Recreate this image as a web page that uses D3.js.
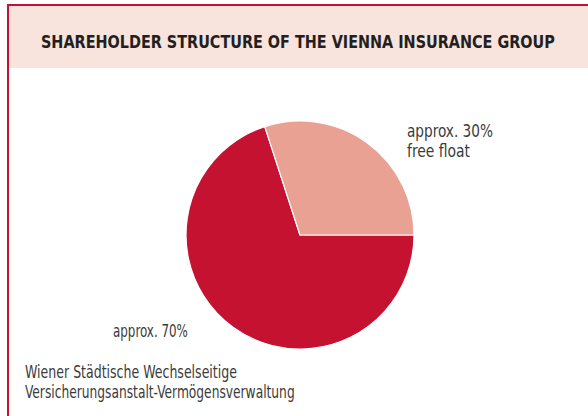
<!DOCTYPE html>
<html lang="en">
<head>
<meta charset="utf-8">
<title>shareholder structure</title>
<style>
html,body {padding:0; margin:0; background:#fff;}
svg {display:block;}
</style>
<script src="https://d3js.org/d3.v7.min.js"></script>
</head>
<body>
<script>
// shares in percent, order = drawing order clockwise from 3 o'clock
var shareholders = ['Wiener Städtische Wechselseitige Versicherungsanstalt-Vermögensverwaltung', 'free float']
var shares = [70, 30]
var shareLabels = [['approx. 70%'], ['approx. 30%', 'free float']]
var ownerLines = ['Wiener Städtische Wechselseitige', 'Versicherungsanstalt-Vermögensverwaltung']
var title = 'SHAREHOLDER STRUCTURE OF THE VIENNA INSURANCE GROUP'

var W = 588, H = 416
var red = '#c41230', salmon = '#e8a192'
var thin = '"Liberation Sans Narrow", "DejaVu Sans Condensed", sans-serif'

var svg = d3.select('body').append('svg').attr('width', W).attr('height', H)

// header band + frame
svg.append('rect').attr('x', 8).attr('y', 5).attr('width', W - 8).attr('height', 63).attr('fill', '#f8e3dd')
svg.append('line').attr('x1', 7).attr('x2', W).attr('y1', 5).attr('y2', 5).attr('stroke', red).attr('stroke-width', 2)
svg.append('line').attr('x1', 8).attr('x2', 8).attr('y1', 4).attr('y2', H).attr('stroke', red).attr('stroke-width', 2)

// squeeze a text horizontally to a target width (reference uses a condensed face)
function fitText(x, y, s, width, size, weight, fill) {
  var t = svg.append('text')
    .attr('font-family', thin).attr('font-weight', weight).attr('font-size', size)
    .attr('fill', fill).text(s)
  var len = t.node().getComputedTextLength()
  t.attr('transform', `translate(${x},${y}) scale(${width / len},1)`)
  return t
}

fitText(41, 48, title, 514, 17.5, 'bold', '#231f20')

// pie
var cx = 300, cy = 235, r = 114
var pie = d3.pie().sort(null).startAngle(Math.PI / 2).endAngle(Math.PI / 2 + 2 * Math.PI)
var arc = d3.arc().innerRadius(0).outerRadius(r)
var color = d3.scaleOrdinal().domain(shareholders).range([red, salmon])

svg.append('g').attr('transform', `translate(${cx},${cy})`)
  .selectAll('path').data(pie(shares)).join('path')
    .attr('d', arc)
    .attr('fill', function(d, i) { return color(shareholders[i]) })
    .attr('stroke', '#fff').attr('stroke-width', 1.2).attr('stroke-linejoin', 'round')

// labels
function lines(x, y, arr, lens) {
  arr.forEach(function(s, i) {
    fitText(x, y + i * 20, s, lens[i], 17, 'normal', '#3b3b3b')
  })
}
lines(407, 137, shareLabels[1], [86, 63])
lines(113, 337, shareLabels[0], [75])
lines(25, 378, ownerLines, [212, 270])
</script>
</body>
</html>
